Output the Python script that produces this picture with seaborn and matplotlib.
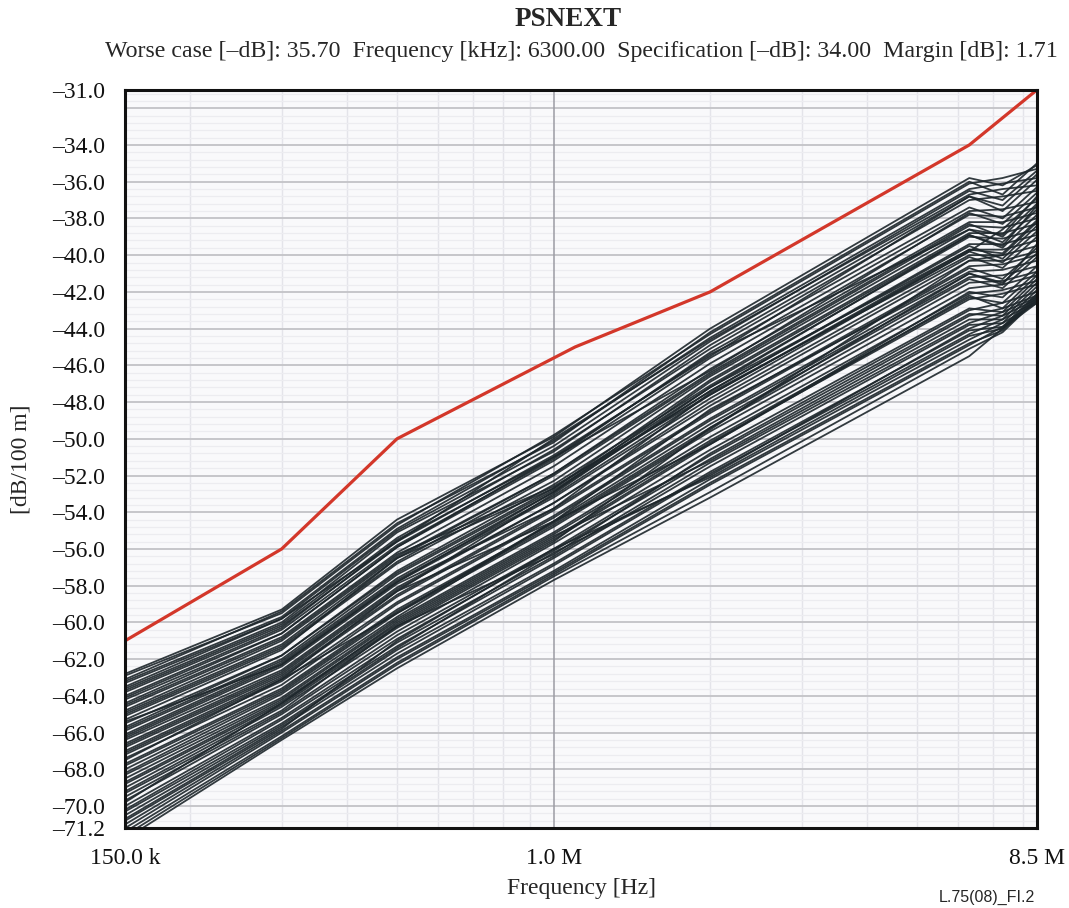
import numpy as np
import pandas as pd
import seaborn as sns
import matplotlib.pyplot as plt
from matplotlib.ticker import FixedLocator, LogLocator, MultipleLocator, NullFormatter

sns.set_style("white")
plt.rcParams["font.family"] = ["Liberation Serif", "DejaVu Serif"]

## --- data
# measured pairs sampled at these frequencies [Hz]
FREQS = [150e3, 300e3, 500e3, 1e6, 2e6, 6.3e6, 7.3e6, 8.5e6]

# one row per measured pair, [dB/100 m]
PAIRS = [
    [-62.8, -59.3, -54.4, -49.9, -44.0, -35.8, -36.2, -35.1],
    [-62.9, -59.5, -54.7, -49.8, -44.3, -36.1, -35.8, -35.3],
    [-63.1, -59.4, -54.6, -50.2, -44.2, -36.0, -36.7, -35.0],
    [-63.2, -59.7, -54.9, -50.1, -44.5, -36.4, -36.1, -35.8],
    [-63.3, -59.8, -55.0, -50.4, -44.7, -36.5, -37.0, -35.4],
    [-63.5, -59.8, -55.6, -50.0, -44.6, -36.7, -36.4, -36.2],
    [-63.6, -60.0, -55.1, -50.7, -44.9, -36.8, -37.3, -35.6],
    [-63.7, -60.1, -55.4, -50.6, -45.1, -37.0, -36.8, -36.5],
    [-63.8, -60.2, -55.6, -50.9, -45.5, -36.8, -37.6, -35.9],
    [-64.0, -60.3, -55.5, -51.0, -45.4, -38.6, -38.9, -36.8],
    [-64.1, -60.4, -55.8, -51.1, -45.3, -37.4, -38.0, -36.3],
    [-64.2, -60.6, -55.9, -51.2, -45.6, -37.6, -37.5, -37.1],
    [-64.4, -60.6, -55.9, -51.0, -46.3, -37.7, -38.3, -36.6],
    [-64.5, -60.8, -56.2, -51.5, -45.9, -37.8, -37.9, -37.4],
    [-64.6, -60.9, -56.3, -52.6, -47.6, -39.8, -38.6, -36.9],
    [-64.8, -61.0, -56.4, -51.9, -46.2, -38.2, -38.2, -37.7],
    [-64.9, -61.2, -56.5, -51.9, -46.4, -38.3, -39.0, -37.2],
    [-65.0, -61.3, -56.7, -52.0, -46.5, -38.4, -38.5, -38.0],
    [-65.1, -61.4, -56.8, -52.3, -46.6, -38.6, -39.3, -37.5],
    [-65.3, -61.5, -56.5, -52.7, -46.8, -38.8, -38.8, -38.3],
    [-65.4, -62.3, -57.8, -52.9, -46.9, -38.9, -39.6, -37.8],
    [-65.5, -61.8, -57.2, -52.5, -47.1, -39.0, -39.1, -38.6],
    [-65.7, -61.8, -57.3, -52.7, -47.2, -39.7, -39.9, -38.1],
    [-65.8, -62.0, -57.4, -52.8, -47.4, -39.4, -39.4, -38.9],
    [-65.9, -62.1, -57.6, -52.9, -47.4, -39.5, -40.2, -38.4],
    [-66.1, -62.2, -57.7, -53.1, -47.6, -39.7, -39.7, -39.2],
    [-66.2, -62.3, -57.8, -53.2, -47.8, -39.8, -40.4, -38.7],
    [-66.3, -62.4, -57.9, -53.8, -47.5, -40.0, -40.0, -39.5],
    [-66.4, -62.6, -58.1, -53.5, -48.0, -40.1, -40.7, -39.0],
    [-66.6, -62.7, -58.2, -53.5, -48.2, -40.3, -40.3, -39.8],
    [-66.7, -62.8, -58.3, -53.0, -47.2, -38.9, -39.5, -37.3],
    [-66.8, -62.9, -58.5, -53.8, -48.5, -40.6, -40.5, -40.0],
    [-67.0, -63.0, -58.6, -53.9, -48.6, -40.7, -41.3, -39.6],
    [-67.1, -63.1, -58.3, -54.5, -48.4, -40.9, -40.8, -40.3],
    [-67.2, -63.2, -58.9, -54.2, -48.9, -41.0, -41.5, -39.9],
    [-67.4, -63.4, -59.0, -54.3, -49.0, -41.2, -41.1, -40.6],
    [-67.5, -63.1, -59.5, -54.5, -49.2, -41.3, -41.8, -40.1],
    [-67.7, -63.6, -59.3, -54.6, -49.4, -41.5, -41.4, -40.9],
    [-67.8, -63.7, -59.4, -54.7, -49.5, -40.3, -40.0, -38.2],
    [-68.0, -63.8, -59.5, -54.8, -49.6, -41.8, -41.6, -41.1],
    [-68.2, -63.9, -59.7, -54.5, -50.3, -42.0, -42.3, -40.6],
    [-68.3, -64.1, -59.8, -55.1, -49.9, -42.1, -41.9, -41.4],
    [-68.5, -64.2, -59.9, -55.2, -50.1, -42.3, -42.6, -40.9],
    [-68.7, -64.3, -60.1, -55.4, -50.2, -42.4, -42.1, -41.6],
    [-68.8, -64.4, -60.2, -55.5, -50.3, -42.2, -42.9, -41.1],
    [-69.0, -64.5, -60.3, -55.6, -49.4, -41.0, -41.6, -39.4],
    [-69.2, -64.6, -60.5, -55.7, -50.6, -42.9, -43.1, -41.3],
    [-69.3, -64.8, -60.2, -56.3, -50.8, -43.0, -42.6, -42.0],
    [-69.5, -64.9, -60.7, -56.0, -50.9, -43.2, -43.3, -41.5],
    [-69.7, -65.0, -60.9, -56.1, -51.1, -43.3, -42.9, -42.2],
    [-69.8, -64.4, -60.0, -55.3, -51.2, -43.5, -43.5, -41.7],
    [-70.0, -65.2, -61.1, -56.4, -51.3, -43.7, -43.1, -42.3],
    [-70.2, -65.3, -61.3, -56.5, -51.5, -43.8, -43.7, -41.9],
    [-70.3, -65.5, -61.4, -56.2, -52.0, -44.0, -43.3, -42.4],
    [-70.5, -65.6, -61.5, -56.8, -51.8, -44.1, -43.9, -42.1],
    [-70.7, -65.7, -61.7, -56.9, -51.9, -44.3, -43.5, -42.5],
    [-70.8, -65.8, -61.0, -56.0, -52.1, -44.4, -44.0, -42.2],
    [-71.0, -65.9, -61.9, -57.2, -52.2, -44.6, -43.7, -42.6],
    [-71.2, -66.0, -62.0, -57.3, -52.4, -44.8, -44.1, -42.3],
    [-71.4, -66.2, -62.2, -57.4, -52.5, -44.9, -43.9, -42.5],
    [-71.6, -66.3, -62.3, -57.5, -52.9, -45.1, -44.2, -42.4],
    [-71.8, -66.4, -62.5, -57.7, -53.2, -45.5, -44.0, -42.6],
]

# specification limit (red)
SPEC_FREQS = [150e3, 300e3, 500e3, 1.1e6, 2e6, 6.3e6, 8.5e6]
SPEC_DB = [-61.0, -56.0, -50.0, -45.0, -42.0, -34.0, -31.0]

Y_TICKS = [-31.0, -32.0] + [float(v) for v in range(-34, -71, -2)] + [-71.2]
X_TICKS = [150e3, 1e6, 8.5e6]
X_LABELS = ["150.0 k", "1.0 M", "8.5 M"]

TITLE = "PSNEXT"
SUBTITLE = ("Worse case [\u2013dB]: 35.70  Frequency [kHz]: 6300.00  "
            "Specification [\u2013dB]: 34.00  Margin [dB]: 1.71")
## ---

rows = [(i, f, v) for i, pair in enumerate(PAIRS) for f, v in zip(FREQS, pair)]
df = pd.DataFrame(rows, columns=["pair", "freq", "db"])

fig = plt.figure(figsize=(10.69, 9.08), dpi=100)
ax = fig.add_axes([0.117, 0.088, 0.853, 0.813])
ax.set_facecolor("#f9f9fb")
ax.set_xscale("log")

sns.lineplot(data=df, x="freq", y="db", units="pair", estimator=None,
             color="#1d262b", lw=1.3, alpha=0.9, legend=False, ax=ax)
sns.lineplot(x=SPEC_FREQS, y=SPEC_DB, color="#d3372a", lw=2.3, ax=ax)

ax.set_xlim(150e3, 8.5e6)
ax.set_ylim(-71.2, -31.0)

# ticks
ax.xaxis.set_major_locator(FixedLocator(X_TICKS))
ax.set_xticklabels(X_LABELS)
ax.xaxis.set_minor_locator(LogLocator(base=10, subs=np.arange(2, 10)))
ax.xaxis.set_minor_formatter(NullFormatter())
ax.yaxis.set_major_locator(FixedLocator(Y_TICKS))
ax.set_yticklabels(["" if t == -32.0 else f"{t:.1f}".replace("-", "\u2013") for t in Y_TICKS])
ax.yaxis.set_minor_locator(MultipleLocator(0.4))

ax.tick_params(which="major", direction="inout", length=9, width=1.6,
               labelsize=17, colors="#111111")
ax.tick_params(axis="y", pad=10)
ax.tick_params(axis="x", pad=10)
ax.tick_params(which="minor", length=0)

# grid
ax.grid(which="major", axis="y", color="#c6c6ca", lw=1.4)
ax.grid(which="minor", axis="y", color="#ececf0", lw=0.9)
ax.grid(which="minor", axis="x", color="#e4e4ea", lw=1.0)
ax.axvline(1e6, color="#9c9ca4", lw=1.1, zorder=1)
ax.set_axisbelow(True)

for s in ax.spines.values():
    s.set_color("#111111")
    s.set_linewidth(2.2)

ax.set_xlabel("Frequency [Hz]", fontsize=17)
ax.set_ylabel("[dB/100 m]", fontsize=17)
ax.xaxis.set_label_coords(0.5, -0.068)
ax.yaxis.set_label_coords(-0.103, 0.5)

fig.text(0.531, 0.979, TITLE, ha="center", va="center", fontsize=19.5, fontweight="bold")
fig.text(0.544, 0.943, SUBTITLE, ha="center", va="center", fontsize=17.2)
fig.text(0.923, 0.012, "L.75(08)_FI.2", ha="center", va="center", fontsize=11.5,
         family=["Liberation Sans", "DejaVu Sans"])

fig.savefig("out.png", dpi=100)
